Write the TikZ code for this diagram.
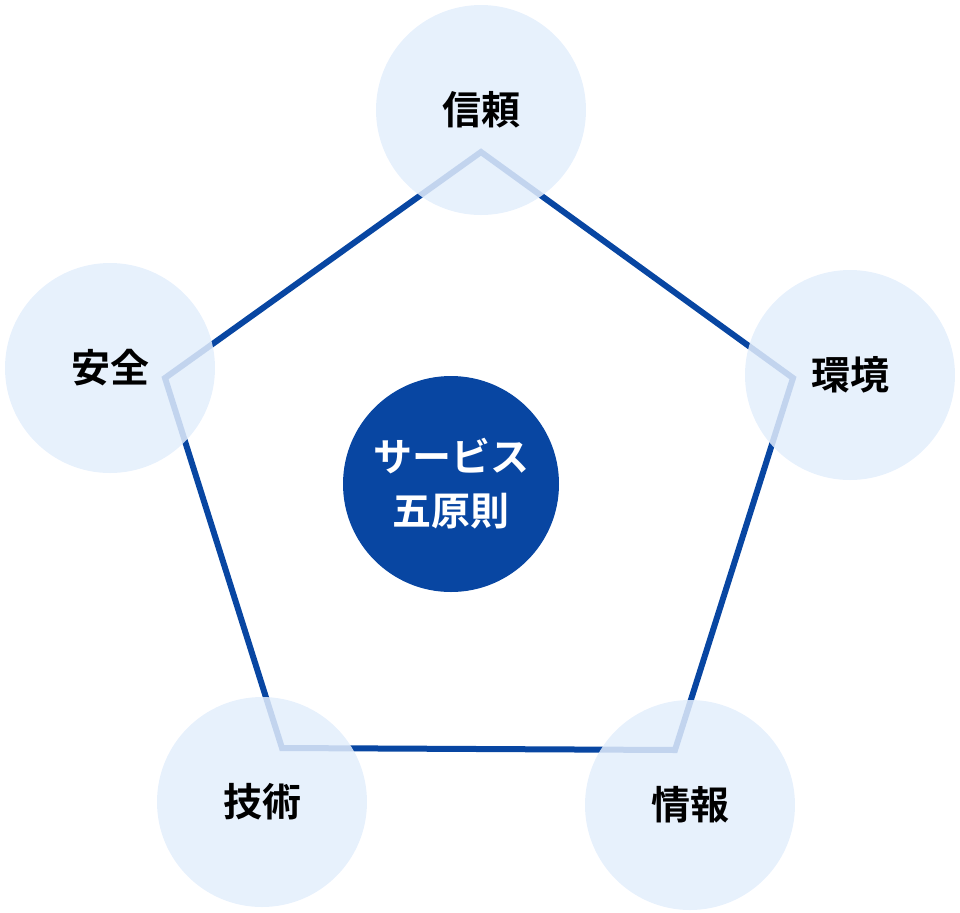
\documentclass[tikz,border=0pt]{standalone}
\usepackage{fontspec}
\newfontfamily\cjk{Noto Sans CJK JP}[BoldFont={* Bold}]
\usetikzlibrary{positioning}
\definecolor{navy}{HTML}{0846A2}
\definecolor{pale}{HTML}{E3EEFC}
\begin{document}
\begin{tikzpicture}[x=0.5pt,y=-0.5pt]
      \tikzstyle{item}=[circle,fill=pale,fill opacity=0.85,text opacity=1,minimum size=105pt,inner sep=0pt,font=\cjk\bfseries\fontsize{19.5}{23}\selectfont]
      \tikzstyle{core}=[circle,fill=navy,text=white,minimum size=108pt,align=center,font=\cjk\bfseries\fontsize{19.5}{27}\selectfont]
      \useasboundingbox (0,0) rectangle (960,912);

      % pentagon corners
      \coordinate (p1) at (481,152);
      \coordinate (p2) at (793,378);
      \coordinate (p3) at (675,750);
      \coordinate (p4) at (282,748);
      \coordinate (p5) at (165,378);
      \draw[navy,line width=3pt,line join=miter] (p1) -- (p2) -- (p3) -- (p4) -- (p5) -- cycle;

      \node[core](c) at (451,484){サービス\\五原則};

      \node[item](trust) at (481,110){信頼};
      \node[item](env) at (850,375){環境};
      \node[item](info) at (690,805){情報};
      \node[item](tech) at (262,802){技術};
      \node[item](safe) at (110,368){安全};
    \end{tikzpicture}
\end{document}
